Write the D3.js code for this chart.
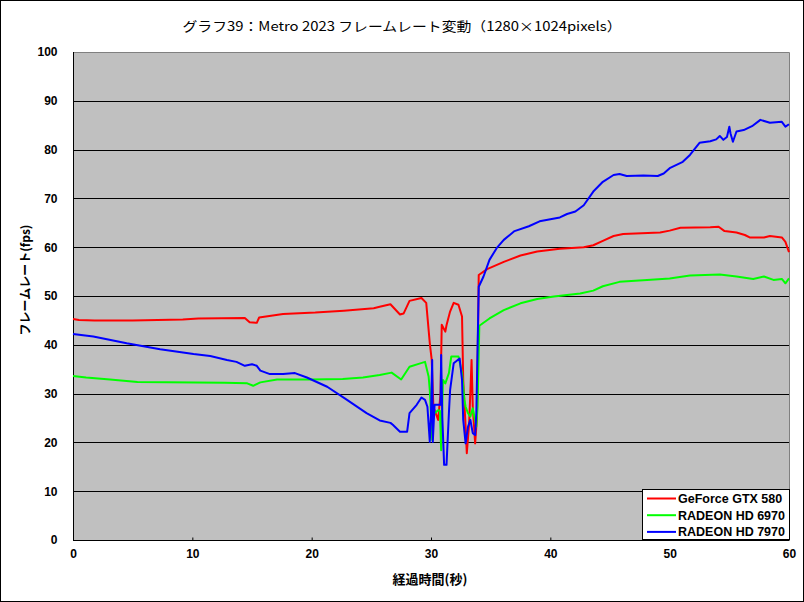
<!DOCTYPE html>
<html><head><meta charset="utf-8">
<script src="https://cdn.jsdelivr.net/npm/d3@7"></script>
<style>
html,body{margin:0;padding:0;background:#fff;}
svg{display:block;}
</style></head>
<body>
<script>
const chartTitle = "グラフ39：Metro 2023 フレームレート変動（1280×1024pixels）";
const xTitle = "経過時間(秒)";
const yTitle = "フレームレート(fps)";
const seriesNames = ["GeForce GTX 580", "RADEON HD 6970", "RADEON HD 7970"];
const seriesColors = ["#ff0000", "#00ff00", "#0000ff"];
const xTicks = [0, 10, 20, 30, 40, 50, 60];
const yTicks = [0, 10, 20, 30, 40, 50, 60, 70, 80, 90, 100];

const timeRed = [0,0.5,1.8,5,9.2,10.5,14.4,14.8,15.4,15.6,17.6,20.3,22.7,25.2,25.7,26.6,27.4,27.7,28.2,29.2,29.6,29.9,30.06,30.2,30.6,30.8,30.9,31.2,31.3,31.6,31.9,32.3,32.6,32.7,32.9,33.0,33.2,33.4,33.5,33.7,33.85,34.0,34.7,36.1,37.5,38.9,40.8,42.8,43.6,44.4,45.3,46.1,49.2,50.0,50.9,53.4,54.1,54.6,55.6,56.3,56.7,57.9,58.4,59.4,59.7,60];
const fpsRed = [45.3,45.1,45.0,45.0,45.2,45.4,45.5,44.6,44.5,45.6,46.3,46.6,47.0,47.5,47.8,48.3,46.2,46.4,49.0,49.6,48.6,40.3,36.9,27.3,24.6,30,44.1,42.7,44.0,46.8,48.6,48.2,45.8,32.8,23.2,17.8,24.0,36.9,27.3,19.8,25,54.3,55.5,57.0,58.3,59.1,59.7,60.0,60.4,61.3,62.3,62.7,63.0,63.4,64.0,64.1,64.2,63.3,63.0,62.5,62.0,62.0,62.3,62.0,61.1,59.0];

const timeGreen = [0,1.1,3.1,5.4,12.7,14.6,15.1,15.7,17.1,19.9,22.6,24.3,25.7,26.7,27.5,28.2,29.1,29.5,29.8,29.9,30.1,30.2,30.3,30.6,30.75,30.85,31.0,31.2,31.5,31.7,32.3,32.6,32.8,32.9,33.1,33.3,33.5,33.8,33.9,34.05,34.9,36.1,37.5,38.9,40.3,42.5,43.6,44.4,45.8,48.1,50.0,51.7,54.2,55.6,57.0,57.9,58.7,59.4,59.7,60];
const fpsGreen = [33.6,33.3,32.9,32.4,32.2,32.1,31.6,32.3,32.9,32.9,33.0,33.3,33.8,34.3,32.9,35.5,36.2,36.5,33.5,30.7,20.5,26.6,26.0,26.6,26.5,18.4,32.8,32.1,34.2,37.6,37.6,34.2,28.7,27.3,26.0,25.3,27.0,23.2,27.3,43.9,45.4,47.1,48.5,49.4,49.9,50.5,51.1,52.0,52.9,53.3,53.6,54.2,54.4,54.0,53.5,54.0,53.3,53.5,52.6,53.6];

const timeBlue = [0,1.7,4.5,7.3,10.1,11.5,12.9,13.7,14.4,15.0,15.4,15.7,16.5,17.6,18.6,19.6,21.3,22.9,24.6,25.7,26.6,26.8,27.4,28.0,28.2,28.8,29.2,29.5,29.7,29.9,30.0,30.1,30.15,30.3,30.8,30.85,30.95,31.1,31.3,31.5,31.6,31.9,32.4,32.6,32.7,32.9,33.1,33.3,33.5,33.7,33.8,34.0,34.4,34.9,35.5,36.1,37.0,38.2,39.1,40.8,41.4,42.1,42.8,43.6,44.4,45.3,45.8,46.4,47.8,49.0,49.5,50.0,51.1,51.7,52.5,53.4,53.9,54.2,54.5,54.8,55.0,55.1,55.3,55.6,56.2,56.9,57.6,58.4,59.4,59.7,60];
const fpsBlue = [42.2,41.7,40.3,39.1,38.1,37.7,36.9,36.5,35.7,36.0,35.7,34.7,34.0,34.0,34.2,33.3,31.4,28.8,26.0,24.5,24.0,23.6,22.2,22.2,26.0,27.7,29.2,28.7,27.3,20.1,26.0,36.9,20.1,27.7,27.7,37.9,25,15.4,15.4,26.0,30.7,36.2,37.2,32.8,24.6,19.8,23.2,24.6,21.9,21.5,26.0,51.9,54.0,57.4,59.8,61.5,63.3,64.3,65.3,66.1,66.8,67.3,68.6,71.4,73.4,74.8,75.0,74.6,74.7,74.6,75.1,76.2,77.5,78.9,81.4,81.7,82.1,82.8,82.0,82.6,84.7,83.3,81.6,83.7,84.0,84.8,86.1,85.5,85.7,84.7,85.2];

const series = [
  {name: seriesNames[0], color: seriesColors[0], t: timeRed, v: fpsRed},
  {name: seriesNames[1], color: seriesColors[1], t: timeGreen, v: fpsGreen},
  {name: seriesNames[2], color: seriesColors[2], t: timeBlue, v: fpsBlue}
];

const W = 804, H = 602;
const L = 73, R = 789, T = 52, B = 540;
const svg = d3.select("body").append("svg").attr("width", W).attr("height", H);
svg.append("rect").attr("x",0.5).attr("y",0.5).attr("width",W-1).attr("height",H-1)
  .attr("fill","#fff").attr("stroke","#000");

const x = d3.scaleLinear().domain([0,60]).range([L,R]);
const y = d3.scaleLinear().domain([0,100]).range([B,T]);

svg.append("rect").attr("x",L).attr("y",T).attr("width",R-L).attr("height",B-T)
  .attr("fill","#c0c0c0");
// top/right gray border
svg.append("path").attr("d",`M${L},${T+0.5}H${R+0.5}V${B}`).attr("fill","none").attr("stroke","#808080");

// grid lines
svg.append("g").selectAll("line").data(yTicks.filter(d=>d>0 && d<100)).join("line")
  .attr("x1",L).attr("x2",R).attr("y1",d=>Math.round(y(d))+0.5).attr("y2",d=>Math.round(y(d))+0.5)
  .attr("stroke","#000").attr("stroke-width",1);

// x axis (ticks inward)
const xAxis = d3.axisBottom(x).tickValues(xTicks).tickSize(-3).tickPadding(9).tickFormat(d3.format("d"));
const gx = svg.append("g").attr("transform",`translate(0,${B+0.5})`).call(xAxis);
gx.select(".domain").attr("stroke","#000").attr("d",`M${L},0H${R}`);
gx.selectAll(".tick line").attr("stroke","#000");
gx.selectAll("text").attr("font-family","Liberation Sans, Arial, sans-serif").attr("font-weight","bold")
  .attr("font-size",12).attr("fill","#000");

// y axis
const yAxis = d3.axisLeft(y).tickValues(yTicks).tickSize(0).tickPadding(16).tickFormat(d3.format("d"));
const gy = svg.append("g").attr("transform",`translate(${L+0.5},0)`).call(yAxis);
gy.select(".domain").attr("stroke","#000").attr("d",`M0,${T}V${B}`);
gy.selectAll("text").attr("font-family","Liberation Sans, Arial, sans-serif").attr("font-weight","bold")
  .attr("font-size",12).attr("fill","#000");

// lines
const lineGen = d3.line().x(d=>x(d[0])).y(d=>y(d[1]));
const plot = svg.append("g");
series.forEach(s => {
  const pts = s.t.map((t,i)=>[t, s.v[i]]);
  plot.append("path").attr("d", lineGen(pts)).attr("fill","none")
    .attr("stroke", s.color).attr("stroke-width", 2).attr("stroke-linejoin","round");
});

// title
svg.append("text").attr("x",402).attr("y",31).attr("text-anchor","middle")
  .attr("font-family","'Noto Sans CJK JP', sans-serif").attr("font-size",13)
  .attr("textLength",439).attr("lengthAdjust","spacingAndGlyphs")
  .text(chartTitle);

// axis titles
svg.append("text").attr("x",430).attr("y",584).attr("text-anchor","middle")
  .attr("font-family","'Noto Sans CJK JP', sans-serif").attr("font-size",13).attr("font-weight","bold")
  .text(xTitle);
svg.append("text").attr("transform","translate(30,280) rotate(-90)").attr("text-anchor","middle")
  .attr("font-family","'Noto Sans CJK JP', sans-serif").attr("font-size",12).attr("font-weight","bold")
  .text(yTitle);

// legend
const lg = svg.append("g");
lg.append("rect").attr("x",642.5).attr("y",489.5).attr("width",147).attr("height",50)
  .attr("fill","#fff").attr("stroke","#000");
series.forEach((s,i) => {
  const cy = 498.5 + i*16.7;
  lg.append("line").attr("x1",647).attr("x2",676).attr("y1",cy).attr("y2",cy)
    .attr("stroke",s.color).attr("stroke-width",2);
  lg.append("text").attr("x",678).attr("y",cy+4.5)
    .attr("font-family","Liberation Sans, Arial, sans-serif").attr("font-weight","bold").attr("font-size",12.5)
    .text(s.name);
});
</script>
</body></html>
